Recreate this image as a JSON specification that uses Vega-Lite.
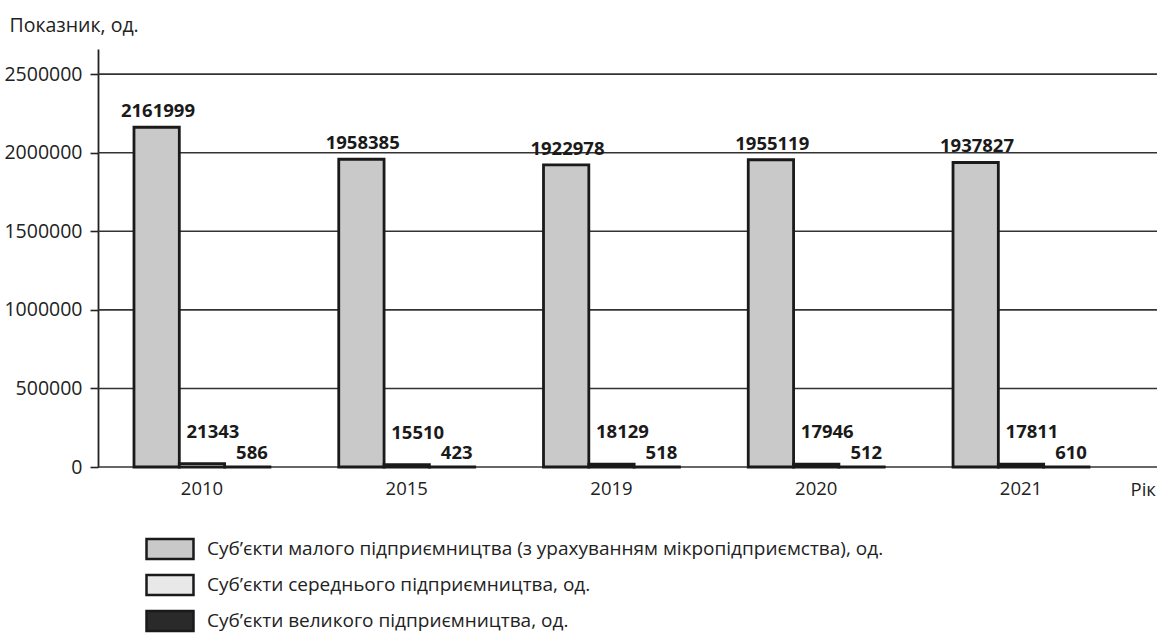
{
  "$schema": "https://vega.github.io/schema/vega-lite/v6.json",
  "width": 1059,
  "height": 418,
  "autosize": "none",
  "padding": {"left": 98, "top": 49, "right": 0, "bottom": 168},
  "background": "white",
  "config": {
    "font": "Open Sans",
    "view": {"stroke": null},
    "axis": {"labelFont": "Open Sans", "titleFont": "Open Sans", "labelColor": "#222", "titleColor": "#222"}
  },
  "datasets": {
    "main": [
      {"year": "2010", "series": "Суб’єкти малого підприємництва (з урахуванням мікропідприємства), од.", "value": 2161999},
      {"year": "2010", "series": "Суб’єкти середнього підприємництва, од.", "value": 21343},
      {"year": "2010", "series": "Суб’єкти великого підприємництва, од.", "value": 586},
      {"year": "2015", "series": "Суб’єкти малого підприємництва (з урахуванням мікропідприємства), од.", "value": 1958385},
      {"year": "2015", "series": "Суб’єкти середнього підприємництва, од.", "value": 15510},
      {"year": "2015", "series": "Суб’єкти великого підприємництва, од.", "value": 423},
      {"year": "2019", "series": "Суб’єкти малого підприємництва (з урахуванням мікропідприємства), од.", "value": 1922978},
      {"year": "2019", "series": "Суб’єкти середнього підприємництва, од.", "value": 18129},
      {"year": "2019", "series": "Суб’єкти великого підприємництва, од.", "value": 518},
      {"year": "2020", "series": "Суб’єкти малого підприємництва (з урахуванням мікропідприємства), од.", "value": 1955119},
      {"year": "2020", "series": "Суб’єкти середнього підприємництва, од.", "value": 17946},
      {"year": "2020", "series": "Суб’єкти великого підприємництва, од.", "value": 512},
      {"year": "2021", "series": "Суб’єкти малого підприємництва (з урахуванням мікропідприємства), од.", "value": 1937827},
      {"year": "2021", "series": "Суб’єкти середнього підприємництва, од.", "value": 17811},
      {"year": "2021", "series": "Суб’єкти великого підприємництва, од.", "value": 610}
    ],
    "grid": [
      {"value": 0}, {"value": 500000}, {"value": 1000000}, {"value": 1500000}, {"value": 2000000}, {"value": 2500000}
    ]
  },
  "layer": [
    {
      "data": {"name": "grid"},
      "mark": {"type": "rule", "color": "#333", "strokeWidth": 1.6},
      "encoding": {
        "y": {"field": "value", "type": "quantitative", "scale": {"domain": [0, 2660000], "nice": false}}
      }
    },
    {
      "data": {"name": "main"},
      "layer": [
        {
          "mark": {"type": "bar", "stroke": "#1a1a1a", "strokeWidth": 2.8, "strokeJoin": "miter"},
          "encoding": {
            "xOffset": {"field": "series", "type": "nominal", "sort": null, "scale": {"paddingInner": 0, "paddingOuter": 0}},
            "fill": {
              "field": "series", "type": "nominal", "sort": null,
              "scale": {
                "domain": ["Суб’єкти малого підприємництва (з урахуванням мікропідприємства), од.", "Суб’єкти середнього підприємництва, од.", "Суб’єкти великого підприємництва, од."],
                "range": ["#c9c9c9", "#e8e8e8", "#2a2a2a"]
              },
              "legend": {
                "title": null, "orient": "none", "legendX": 59, "legendY": 487, "direction": "vertical",
                "symbolType": "M-2,-0.85H2V0.85H-2Z", "symbolSize": 552, "symbolStrokeColor": "#1a1a1a", "symbolStrokeWidth": 2.5,
                "symbolOpacity": 1, "labelFontSize": 19, "labelColor": "#222", "labelLimit": 1000, "labelOffset": 24, "rowPadding": 6
              }
            }
          }
        },
        {
          "transform": [{"filter": "datum.series === 'Суб’єкти малого підприємництва (з урахуванням мікропідприємства), од.'"}],
          "mark": {"type": "text", "fontWeight": "bold", "fontSize": 18.5, "dx": -44, "dy": -10, "baseline": "alphabetic", "color": "#1a1a1a"},
          "encoding": {"text": {"field": "value", "type": "quantitative", "format": "d"}}
        },
        {
          "transform": [{"filter": "datum.series === 'Суб’єкти середнього підприємництва, од.'"}],
          "mark": {"type": "text", "fontWeight": "bold", "fontSize": 18.5, "dx": 11, "dy": -26, "baseline": "alphabetic", "color": "#1a1a1a"},
          "encoding": {"text": {"field": "value", "type": "quantitative", "format": "d"}}
        },
        {
          "transform": [{"filter": "datum.series === 'Суб’єкти великого підприємництва, од.'"}],
          "mark": {"type": "text", "fontWeight": "bold", "fontSize": 18.5, "dx": 50, "dy": -8, "baseline": "alphabetic", "color": "#1a1a1a"},
          "encoding": {"text": {"field": "value", "type": "quantitative", "format": "d"}}
        }
      ],
      "encoding": {
        "x": {
          "field": "year", "type": "nominal",
          "scale": {"paddingInner": 0.336, "paddingOuter": 0.254, "align": 0.346},
          "axis": {
            "domain": false, "ticks": false, "labelAngle": 0, "labelFontSize": 18.5, "labelPadding": 12,
            "title": "Рік", "titleFontSize": 18.5, "titleFontWeight": "normal",
            "titleX": 1032, "titleY": 22, "titleAlign": "left", "titleBaseline": "middle", "titleAnchor": null
          }
        },
        "y": {
          "field": "value", "type": "quantitative",
          "scale": {"domain": [0, 2660000], "nice": false},
          "axis": {
            "values": [0, 500000, 1000000, 1500000, 2000000, 2500000], "format": "d",
            "grid": false,
            "domainColor": "#222", "domainWidth": 1.8, "tickColor": "#222", "tickWidth": 1.6, "tickSize": 8,
            "labelFontSize": 19.5, "labelPadding": 8,
            "title": "Показник, од.", "titleFontSize": 19.5, "titleFontWeight": "normal", "titleAngle": 0,
            "titleX": -89, "titleY": -18, "titleAlign": "left", "titleBaseline": "alphabetic"
          }
        }
      }
    }
  ]
}
